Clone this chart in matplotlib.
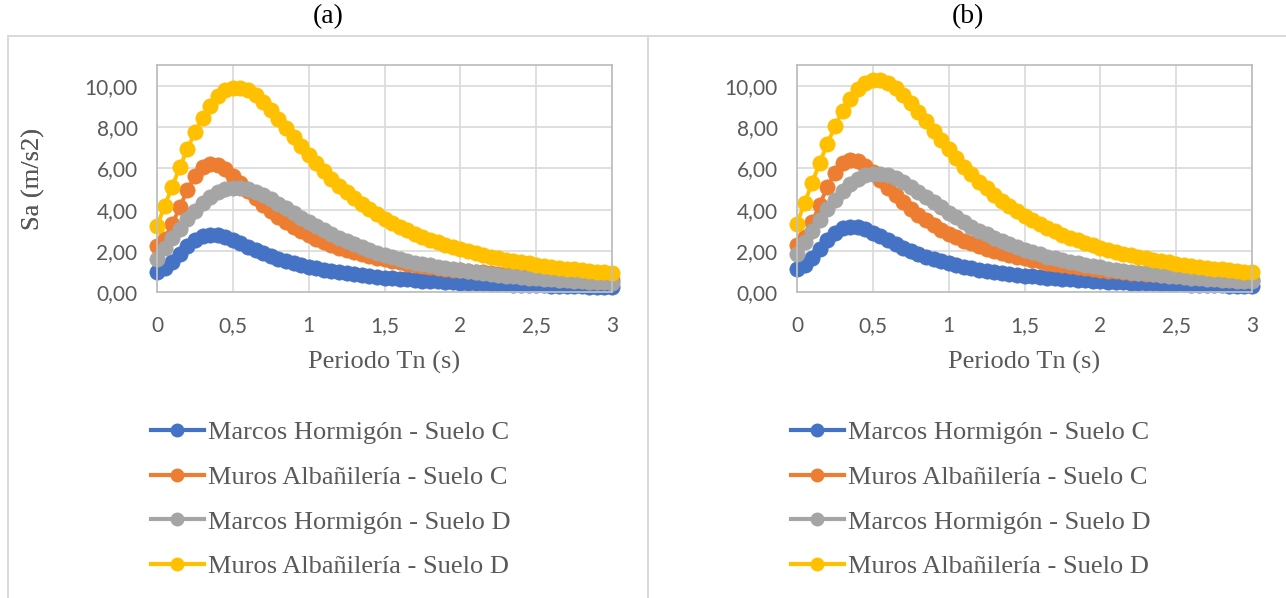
import matplotlib
matplotlib.use("Agg")
import matplotlib.pyplot as plt
from matplotlib.patches import Rectangle
from matplotlib.lines import Line2D

# Periodo Tn (s)
periodo = [0.00, 0.05, 0.10, 0.15, 0.20, 0.25, 0.30, 0.35, 0.40, 0.45,
           0.50, 0.55, 0.60, 0.65, 0.70, 0.75, 0.80, 0.85, 0.90, 0.95,
           1.00, 1.05, 1.10, 1.15, 1.20, 1.25, 1.30, 1.35, 1.40, 1.45,
           1.50, 1.55, 1.60, 1.65, 1.70, 1.75, 1.80, 1.85, 1.90, 1.95,
           2.00, 2.05, 2.10, 2.15, 2.20, 2.25, 2.30, 2.35, 2.40, 2.45,
           2.50, 2.55, 2.60, 2.65, 2.70, 2.75, 2.80, 2.85, 2.90, 2.95, 3.00]

# ---- panel (a) ----
a_marcos_c = [1.01, 1.17, 1.48, 1.86, 2.23, 2.53, 2.73, 2.80, 2.78, 2.68,
              2.54, 2.38, 2.22, 2.06, 1.91, 1.77, 1.64, 1.53, 1.42, 1.33,
              1.25, 1.17, 1.10, 1.04, 0.98, 0.93, 0.88, 0.83, 0.79, 0.75,
              0.72, 0.69, 0.66, 0.63, 0.60, 0.58, 0.56, 0.54, 0.52, 0.50,
              0.48, 0.47, 0.45, 0.44, 0.42, 0.41, 0.40, 0.38, 0.37, 0.36,
              0.35, 0.34, 0.33, 0.32, 0.32, 0.31, 0.30, 0.29, 0.29, 0.28, 0.27]
a_muros_c = [2.24, 2.60, 3.29, 4.12, 4.95, 5.62, 6.05, 6.22, 6.16, 5.95,
             5.64, 5.28, 4.92, 4.57, 4.23, 3.92, 3.64, 3.39, 3.16, 2.95,
             2.76, 2.59, 2.44, 2.30, 2.17, 2.05, 1.94, 1.85, 1.76, 1.67,
             1.60, 1.53, 1.46, 1.40, 1.34, 1.29, 1.24, 1.19, 1.15, 1.11,
             1.07, 1.03, 1.00, 0.97, 0.93, 0.90, 0.88, 0.85, 0.83, 0.80,
             0.78, 0.76, 0.74, 0.72, 0.70, 0.68, 0.67, 0.65, 0.63, 0.62, 0.60]
a_marcos_d = [1.64, 2.13, 2.62, 3.09, 3.54, 3.95, 4.32, 4.61, 4.84, 4.99,
              5.06, 5.06, 4.99, 4.87, 4.70, 4.51, 4.30, 4.07, 3.85, 3.62,
              3.41, 3.20, 3.00, 2.81, 2.64, 2.48, 2.33, 2.18, 2.05, 1.93,
              1.82, 1.72, 1.63, 1.54, 1.45, 1.38, 1.31, 1.24, 1.18, 1.12,
              1.07, 1.02, 0.97, 0.93, 0.89, 0.85, 0.81, 0.78, 0.75, 0.72,
              0.69, 0.66, 0.64, 0.62, 0.59, 0.57, 0.55, 0.53, 0.51, 0.50, 0.48]
a_muros_d = [3.21, 4.17, 5.12, 6.05, 6.93, 7.74, 8.45, 9.03, 9.48, 9.77,
             9.91, 9.90, 9.77, 9.53, 9.21, 8.83, 8.41, 7.97, 7.53, 7.09,
             6.67, 6.26, 5.87, 5.51, 5.16, 4.85, 4.55, 4.28, 4.02, 3.78,
             3.57, 3.37, 3.18, 3.01, 2.85, 2.69, 2.56, 2.43, 2.31, 2.20,
             2.09, 1.99, 1.90, 1.82, 1.74, 1.66, 1.59, 1.52, 1.46, 1.41,
             1.35, 1.30, 1.25, 1.20, 1.16, 1.12, 1.08, 1.04, 1.00, 0.97, 0.94]

# ---- panel (b) ----
b_marcos_c = [1.15, 1.33, 1.69, 2.12, 2.54, 2.89, 3.11, 3.19, 3.16, 3.05,
              2.89, 2.71, 2.53, 2.34, 2.17, 2.01, 1.87, 1.74, 1.62, 1.51,
              1.42, 1.33, 1.25, 1.18, 1.11, 1.05, 1.00, 0.95, 0.90, 0.86,
              0.82, 0.78, 0.75, 0.72, 0.69, 0.66, 0.64, 0.61, 0.59, 0.57,
              0.55, 0.53, 0.51, 0.50, 0.48, 0.46, 0.45, 0.44, 0.42, 0.41,
              0.40, 0.39, 0.38, 0.37, 0.36, 0.35, 0.34, 0.33, 0.33, 0.32, 0.31]
b_muros_c = [2.31, 2.68, 3.39, 4.25, 5.10, 5.80, 6.24, 6.41, 6.35, 6.13,
             5.81, 5.45, 5.07, 4.71, 4.37, 4.05, 3.76, 3.50, 3.26, 3.04,
             2.85, 2.67, 2.51, 2.37, 2.24, 2.12, 2.01, 1.90, 1.81, 1.73,
             1.65, 1.57, 1.51, 1.44, 1.38, 1.33, 1.28, 1.23, 1.19, 1.14,
             1.10, 1.06, 1.03, 1.00, 0.96, 0.93, 0.91, 0.88, 0.85, 0.83,
             0.81, 0.78, 0.76, 0.74, 0.72, 0.70, 0.69, 0.67, 0.65, 0.64, 0.62]
b_marcos_d = [1.86, 2.42, 2.97, 3.51, 4.02, 4.48, 4.90, 5.23, 5.49, 5.66,
              5.74, 5.74, 5.66, 5.52, 5.33, 5.12, 4.87, 4.62, 4.36, 4.11,
              3.86, 3.63, 3.40, 3.19, 2.99, 2.81, 2.64, 2.48, 2.33, 2.19,
              2.07, 1.95, 1.84, 1.74, 1.65, 1.56, 1.48, 1.41, 1.34, 1.27,
              1.21, 1.16, 1.10, 1.05, 1.01, 0.96, 0.92, 0.88, 0.85, 0.81,
              0.78, 0.75, 0.72, 0.70, 0.67, 0.65, 0.62, 0.60, 0.58, 0.56, 0.54]
b_muros_d = [3.33, 4.33, 5.31, 6.28, 7.19, 8.03, 8.76, 9.37, 9.83, 10.13,
             10.28, 10.27, 10.13, 9.88, 9.55, 9.16, 8.72, 8.27, 7.81, 7.36,
             6.92, 6.49, 6.09, 5.71, 5.36, 5.03, 4.72, 4.44, 4.17, 3.93,
             3.70, 3.49, 3.30, 3.12, 2.95, 2.79, 2.65, 2.52, 2.39, 2.28,
             2.17, 2.07, 1.97, 1.88, 1.80, 1.72, 1.65, 1.58, 1.52, 1.46,
             1.40, 1.35, 1.30, 1.25, 1.20, 1.16, 1.12, 1.08, 1.04, 1.01, 0.97]

series_names = ['Marcos Hormigón - Suelo C', 'Muros Albañilería - Suelo C',
                'Marcos Hormigón - Suelo D', 'Muros Albañilería - Suelo D']
colors = ['#4472C4', '#ED7D31', '#A5A5A5', '#FFC000']

y_ticks = [0, 2, 4, 6, 8, 10]
y_labels = ['0,00', '2,00', '4,00', '6,00', '8,00', '10,00']
x_ticks = [0, 0.5, 1, 1.5, 2, 2.5, 3]
x_labels = ['0', '0,5', '1', '1,5', '2', '2,5', '3']

panels = [('(a)', [a_marcos_c, a_muros_c, a_marcos_d, a_muros_d]),
          ('(b)', [b_marcos_c, b_muros_c, b_marcos_d, b_muros_d])]

W, H = 1286, 598
fig = plt.figure(figsize=(W / 100, H / 100), dpi=100)
serif = 'Liberation Serif'
txt_gray = '#595959'

# panel frames (figure pixel coordinates)
frame_boxes = [(8, 36, 640, 600), (648, 36, 660, 600)]
for (x0, y0, w, h) in frame_boxes:
    fig.patches.append(Rectangle((x0 / W, 1 - (y0 + h) / H), w / W, h / H,
                                 transform=fig.transFigure, fill=False,
                                 edgecolor='#d9d9d9', lw=1.4))

ax_left = [157, 797]
for k, (title, data) in enumerate(panels):
    left = ax_left[k]
    ax = fig.add_axes([left / W, 1 - 292.5 / H, 455 / W, 227.5 / H])
    for vals, name, c in zip(data, series_names, colors):
        ax.plot(periodo, vals, '-o', color=c, lw=2.8, ms=11, mec=c, mew=0.5,
                label=name, clip_on=False)
    ax.set_xlim(0, 3)
    ax.set_ylim(0, 11)
    ax.set_xticks(x_ticks)
    ax.set_xticklabels(x_labels)
    ax.set_yticks(y_ticks)
    ax.set_yticklabels(y_labels)
    ax.tick_params(length=0, labelsize=15, labelcolor=txt_gray)
    ax.tick_params(axis='x', pad=17)
    ax.tick_params(axis='y', pad=14)
    for lab in ax.get_xticklabels() + ax.get_yticklabels():
        lab.set_fontfamily('Lato')
    ax.grid(True, color='#d9d9d9', lw=1.2)
    ax.set_axisbelow(True)
    for sp in ax.spines.values():
        sp.set_color('#bfbfbf')
        sp.set_linewidth(1.3)
    ax.set_xlabel('Periodo Tn (s)', fontsize=19, family=serif, color=txt_gray,
                  va='center')
    ax.xaxis.set_label_coords(0.5, (292.5 - 362) / 227.5)
    ax.set_ylabel('Sa (m/s2)', fontsize=19, family=serif, color=txt_gray,
                  va='center')
    ax.yaxis.set_label_coords((33 - left) / 455, 0.5)
    fig.text((left + 171) / W, 1 - 17 / H, title, fontsize=20, family=serif,
             ha='center', va='center')

    handles = [Line2D([], [], color=c, lw=3, marker='o', ms=9, mec=c)
               for c in colors]
    fig.legend(handles, series_names, loc='upper left',
               bbox_to_anchor=((left - 6) / W, 1 - 421 / H),
               frameon=False, prop={'family': serif, 'size': 19},
               labelcolor=txt_gray, handlelength=2.0, handletextpad=0.15,
               labelspacing=0.8, borderpad=0, borderaxespad=0)

fig.savefig('out.png', dpi=100)
